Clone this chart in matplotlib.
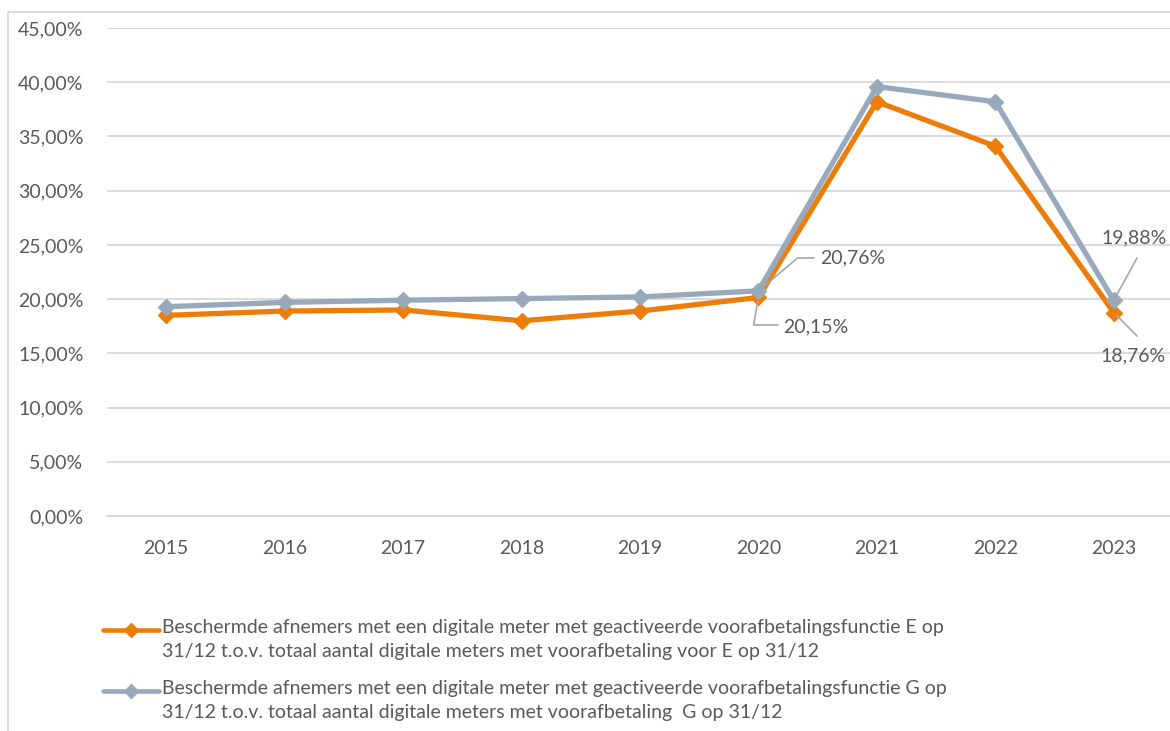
import matplotlib
matplotlib.use("Agg")
import matplotlib.pyplot as plt
from matplotlib.lines import Line2D
from matplotlib.patches import Rectangle
from matplotlib.ticker import FuncFormatter

years = ["2015", "2016", "2017", "2018", "2019", "2020", "2021", "2022", "2023"]
share_e = [18.5, 18.9, 19.0, 18.0, 18.9, 20.15, 38.2, 34.1, 18.76]
share_g = [19.3, 19.7, 19.9, 20.05, 20.2, 20.76, 39.6, 38.2, 19.88]
label_e = ("Beschermde afnemers met een digitale meter met geactiveerde voorafbetalingsfunctie E op\n"
           "31/12 t.o.v. totaal aantal digitale meters met voorafbetaling voor E op 31/12")
label_g = ("Beschermde afnemers met een digitale meter met geactiveerde voorafbetalingsfunctie G op\n"
           "31/12 t.o.v. totaal aantal digitale meters met voorafbetaling  G op 31/12")
y_ticks = [0, 5, 10, 15, 20, 25, 30, 35, 40, 45]

ORANGE = "#ED7D0A"
GREY = "#97A9BA"
TEXT = "#595959"
GRID = "#D9D9D9"
LEADER = "#A6A6A6"
FS = 14

plt.rcParams["font.family"] = ["Lato", "DejaVu Sans"]

W, H = 1170, 731
fig = plt.figure(figsize=(W / 100, H / 100), dpi=100)
ax = fig.add_axes([107 / W, 1 - 516 / H, 1066 / W, 488 / H])


def fpx(x, y_top):
    """Figure fraction from a pixel position measured from the top-left corner."""
    return x / W, 1 - y_top / H


def pct(v):
    return f"{v:.2f}%".replace(".", ",")


x = list(range(len(years)))
ax.plot(x, share_e, color=ORANGE, lw=3.8, marker="D", ms=8, zorder=3,
        solid_joinstyle="miter")
ax.plot(x, share_g, color=GREY, lw=3.8, marker="D", ms=8, zorder=4,
        solid_joinstyle="miter")

ax.set_xlim(-0.5, len(years) - 0.5)
ax.set_ylim(0, 45)
ax.set_yticks(y_ticks)
ax.yaxis.set_major_formatter(FuncFormatter(lambda v, p: pct(v)))
ax.set_xticks(x)
ax.set_xticklabels(years)
ax.grid(axis="y", color=GRID, lw=1.3)
ax.set_axisbelow(True)
for s in ["top", "right", "left"]:
    ax.spines[s].set_visible(False)
ax.spines["bottom"].set_color(GRID)
ax.spines["bottom"].set_linewidth(1.3)
ax.tick_params(axis="both", length=0, labelsize=FS, colors=TEXT)
ax.tick_params(axis="y", pad=17)
ax.tick_params(axis="x", pad=17)

# value labels with leader lines
arrow = dict(arrowstyle="-", color=LEADER, lw=1.2, shrinkA=0, shrinkB=3)
i20 = years.index("2020")
i23 = years.index("2023")

ax.annotate("", xy=(i20, share_g[i20]), xytext=fpx(814, 258), textcoords="figure fraction",
            arrowprops=dict(arrow, connectionstyle="angle,angleA=0,angleB=40,rad=0"))
fig.text(*fpx(820, 258), pct(share_g[i20]), fontsize=FS, color=TEXT, va="center", ha="left")

ax.annotate("", xy=(i20, share_e[i20]), xytext=fpx(778, 325), textcoords="figure fraction",
            arrowprops=dict(arrow, connectionstyle="angle,angleA=0,angleB=80,rad=0"))
fig.text(*fpx(783, 327), pct(share_e[i20]), fontsize=FS, color=TEXT, va="center", ha="left")

ax.annotate("", xy=(i23, share_g[i23]), xytext=fpx(1137, 258), textcoords="figure fraction",
            arrowprops=arrow, annotation_clip=False)
fig.text(*fpx(1101, 238), pct(share_g[i23]), fontsize=FS, color=TEXT, va="center", ha="left")

ax.annotate("", xy=(i23, share_e[i23]), xytext=fpx(1137, 336), textcoords="figure fraction",
            arrowprops=arrow, annotation_clip=False)
fig.text(*fpx(1100, 356), pct(share_e[i23]), fontsize=FS, color=TEXT, va="center", ha="left")

# legend: handle sits next to the first line of each two-line entry
for color, label, y_top in [(ORANGE, label_e, 630), (GREY, label_g, 691)]:
    x0, y0 = fpx(103, y_top)
    x1, _ = fpx(159, y_top)
    fig.add_artist(Line2D([x0, x1], [y0, y0], color=color, lw=3.3,
                          transform=fig.transFigure, solid_capstyle="round"))
    fig.add_artist(Line2D([(x0 + x1) / 2], [y0], color=color, marker="D", ms=7,
                          transform=fig.transFigure))
    tx, ty = fpx(162, y_top - 11)
    fig.text(tx, ty, label, fontsize=FS, color=TEXT, va="top", ha="left", linespacing=1.5)

# outer chart border
fig.add_artist(Rectangle(fpx(8, 760), 1.2, (760 - 12) / H, transform=fig.transFigure,
                         fill=False, edgecolor=GRID, lw=1.3))

fig.savefig("out.png", dpi=100)
